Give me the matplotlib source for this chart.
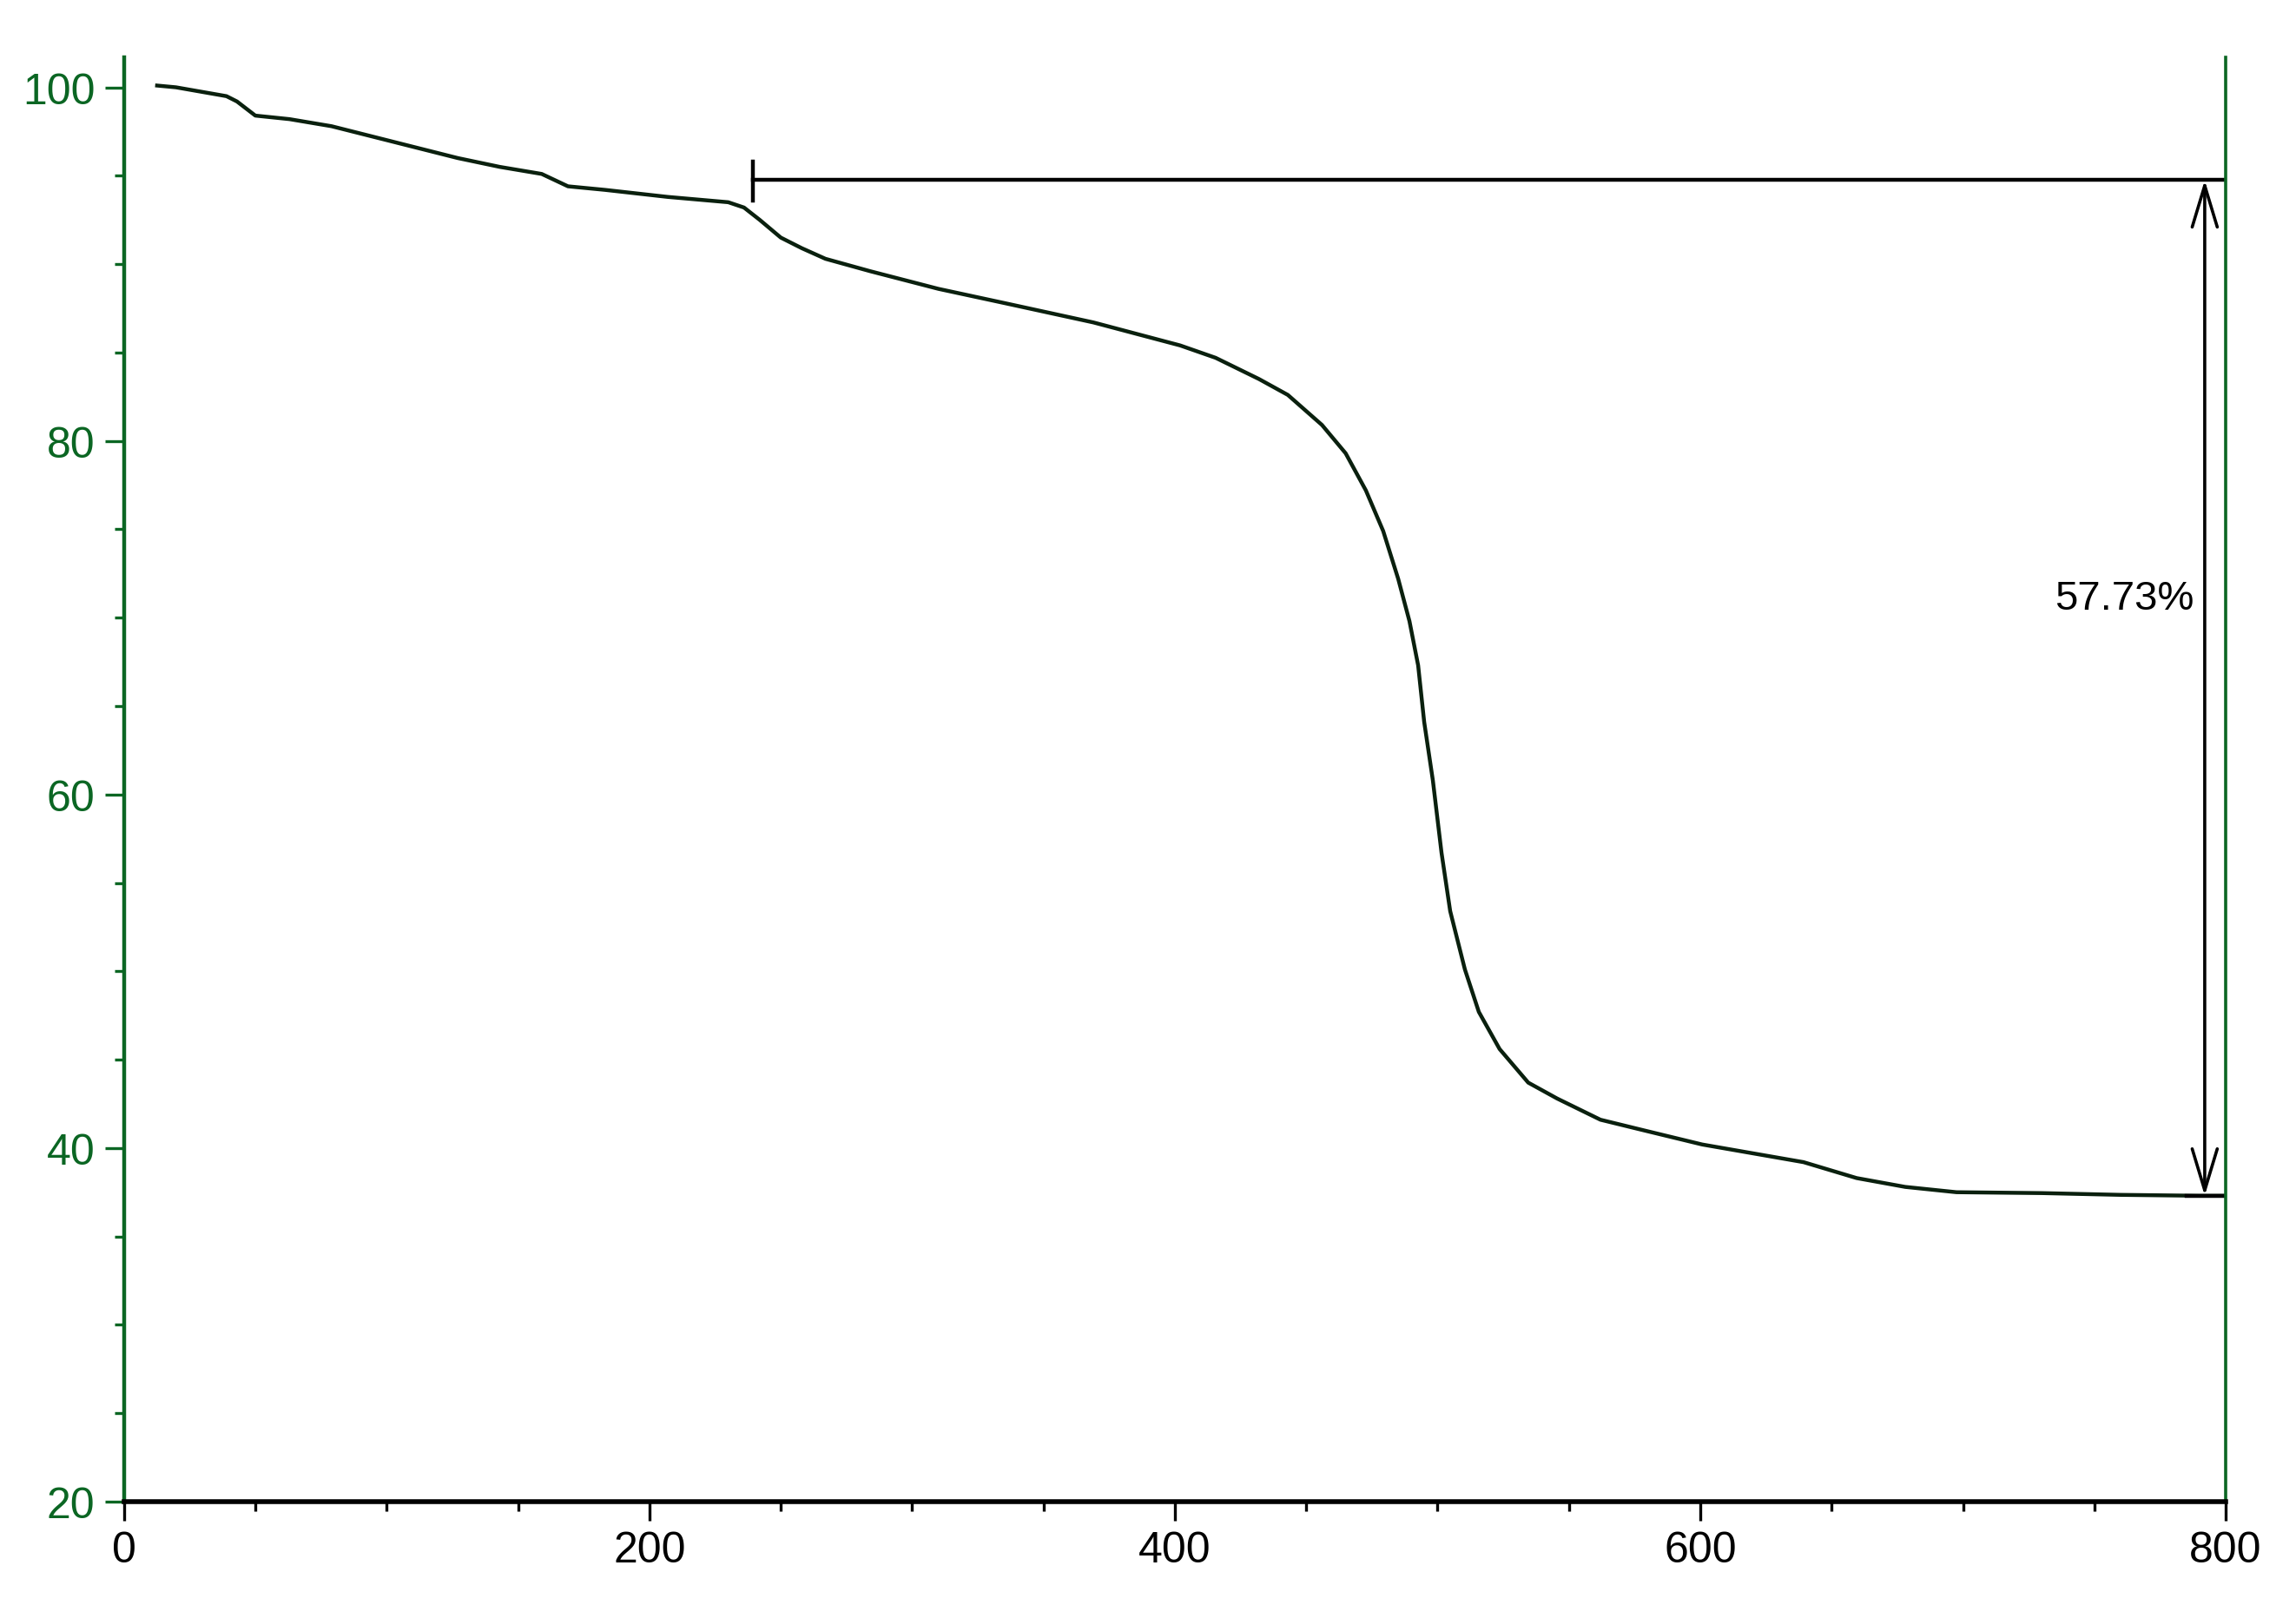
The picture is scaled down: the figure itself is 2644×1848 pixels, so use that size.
import matplotlib
matplotlib.use("Agg")
import matplotlib.pyplot as plt
from matplotlib.patches import FancyArrowPatch
from matplotlib.ticker import MultipleLocator

# TGA curve (temperature, mass %)
temp = [12.6, 19.8, 39, 43, 50, 63, 79, 95, 111, 127, 143, 159, 169, 183, 207,
        230, 236, 242, 250, 258, 267, 284, 310, 335, 369, 402, 415.5, 432, 443,
        456, 465, 472.7, 479.3, 485, 489.3, 492.6, 494.9, 498.2, 501.5, 504.8,
        510.4, 515.7, 523.6, 534.5, 545.5, 562, 578.5, 600.7, 620, 639.3, 659.5,
        678, 697.5, 730, 760, 790, 800]
mass = [100.1, 100.0, 99.5, 99.2, 98.4, 98.2, 97.8, 97.2, 96.6, 96.0, 95.5, 95.1,
        94.4, 94.2, 93.8, 93.5, 93.2, 92.5, 91.5, 90.9, 90.3, 89.6, 88.6, 87.8,
        86.7, 85.4, 84.7, 83.5, 82.6, 80.9, 79.3, 77.2, 74.9, 72.2, 69.8, 67.3,
        64.1, 60.8, 56.7, 53.4, 50.1, 47.7, 45.6, 43.7, 42.8, 41.6, 41.0, 40.2,
        39.7, 39.2, 38.3, 37.8, 37.5, 37.45, 37.35, 37.3, 37.3]

# step annotation
step_start = 239.3
step_top = 94.75
step_bottom = 37.3
arrow_x = 792
step_label = "57.73%"

xticks = [0, 200, 400, 600, 800]
yticks = [20, 40, 60, 80, 100]

green = "#0b6623"
plt.rcParams['font.family'] = ['Liberation Sans', 'DejaVu Sans']

fig = plt.figure(figsize=(13.22, 9.245), dpi=200)
ax = fig.add_axes([0.054, 0.0644, 0.9154, 0.8994])

ax.plot(temp, mass, color="#0a200e", lw=1.6)

# horizontal reference lines and step bar
ax.plot([step_start, 800], [step_top, step_top], color="black", lw=1.6)
ax.plot([step_start, step_start], [93.6, 95.8], color="black", lw=1.6)
ax.plot([785, 800], [step_bottom, step_bottom], color="black", lw=1.6)
arr = FancyArrowPatch((arrow_x, step_bottom), (arrow_x, step_top),
                      arrowstyle="<->,head_length=0.43,head_width=0.13",
                      mutation_scale=40, shrinkA=0, shrinkB=0,
                      color="black", lw=1.3)
ax.add_patch(arr)
ax.text(788, 71.1, step_label, ha="right", va="center", fontsize=17, color="black")

ax.set_xlim(0, 800)
ax.set_ylim(20, 101.7)
ax.set_xticks(xticks)
ax.set_yticks(yticks)
ax.xaxis.set_minor_locator(MultipleLocator(50))
ax.yaxis.set_minor_locator(MultipleLocator(5))

ax.spines['top'].set_visible(False)
ax.spines['left'].set_color(green)
ax.spines['left'].set_linewidth(1.6)
ax.spines['right'].set_color(green)
ax.spines['right'].set_linewidth(1.3)
ax.spines['bottom'].set_color("black")
ax.spines['bottom'].set_linewidth(2.0)

ax.tick_params(axis='x', which='major', direction='out', length=8, width=1.2,
               colors='black', labelsize=18, pad=4)
ax.tick_params(axis='x', which='minor', direction='out', length=4, width=1.2, colors='black')
ax.tick_params(axis='y', which='major', direction='out', length=8, width=1.2,
               colors=green, labelsize=18, pad=4)
ax.tick_params(axis='y', which='minor', direction='out', length=4, width=1.2, colors=green)

fig.savefig("out.png", dpi=200)
